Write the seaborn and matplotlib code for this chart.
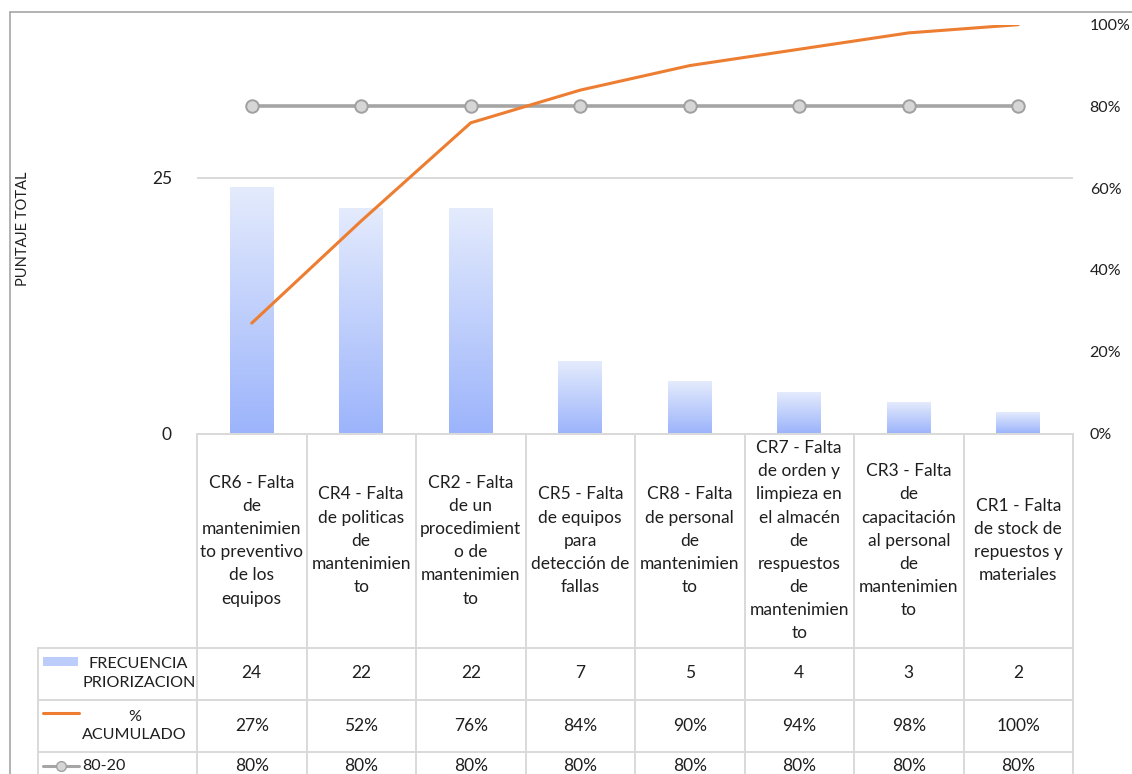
import numpy as np
import pandas as pd
import matplotlib
matplotlib.use("Agg")
import matplotlib.pyplot as plt
import seaborn as sns
from matplotlib.lines import Line2D
from matplotlib.patches import Rectangle
from matplotlib.colors import LinearSegmentedColormap
from matplotlib.ticker import PercentFormatter

# ---------------- data ----------------
categories = [
    "CR6 - Falta\nde\nmantenimien\nto preventivo\nde los\nequipos",
    "CR4 - Falta\nde politicas\nde\nmantenimien\nto",
    "CR2 - Falta\nde un\nprocedimient\no de\nmantenimien\nto",
    "CR5 - Falta\nde equipos\npara\ndetección de\nfallas",
    "CR8 - Falta\nde personal\nde\nmantenimien\nto",
    "CR7 - Falta\nde orden y\nlimpieza en\nel almacén\nde\nrespuestos\nde\nmantenimien\nto",
    "CR3 - Falta\nde\ncapacitación\nal personal\nde\nmantenimien\nto",
    "CR1 - Falta\nde stock de\nrepuestos y\nmateriales",
]
frecuencia = [24, 22, 22, 7, 5, 4, 3, 2]
acumulado = [0.27, 0.52, 0.76, 0.84, 0.90, 0.94, 0.98, 1.00]
regla_80_20 = [0.80, 0.80, 0.80, 0.80, 0.80, 0.80, 0.80, 0.80]
series_names = ["FRECUENCIA\nPRIORIZACION", "%\nACUMULADO", "80-20"]
left_ticks = [0, 25]
right_ticks = [0.0, 0.2, 0.4, 0.6, 0.8, 1.0]
y_label = "PUNTAJE TOTAL"

# ---------------- style ----------------
sns.set_theme(style="white")
plt.rcParams["font.family"] = ["Lato", "DejaVu Sans"]
TXT = "#1F1F1F"
GRID = "#D9D9D9"
ORANGE = "#ED7D31"
GRAY = "#A5A5A5"

W, H = 1132, 774
fig = plt.figure(figsize=(W / 100, H / 100), dpi=100)
fig.patch.set_facecolor("white")


def fx(x):
    return x / W


def fy(y):
    return 1 - y / H


PL, PR, PT, PB = 197, 1073, 24.7, 433.5
ax = fig.add_axes([fx(PL), fy(PB), (PR - PL) / W, (PB - PT) / H])

df = pd.DataFrame({"cat": categories, "freq": frecuencia})
sns.barplot(data=df, x="cat", y="freq", ax=ax, width=0.4,
            color="#9EB6FC", saturation=1, zorder=2)

cmap = LinearSegmentedColormap.from_list("bar", ["#9CB4FB", "#E4EBFD"])
grad = np.linspace(0, 1, 256).reshape(-1, 1)
for p in list(ax.patches):
    x0, y0, w, h = p.get_x(), p.get_y(), p.get_width(), p.get_height()
    ax.imshow(grad, extent=[x0, x0 + w, y0, y0 + h], aspect="auto",
              cmap=cmap, origin="lower", zorder=2, interpolation="bilinear")
    p.set_facecolor("none")
    p.set_edgecolor("none")

ax.set_xlim(-0.5, len(categories) - 0.5)
ax.set_ylim(0, 40)
ax.set_yticks(left_ticks)
ax.set_xticks([])
ax.set_xlabel("")
ax.set_ylabel("")
ax.yaxis.grid(True, color=GRID, lw=1.4)
ax.set_axisbelow(True)
for s in ax.spines.values():
    s.set_visible(False)
ax.tick_params(axis="y", length=0, pad=18, labelsize=12.5, labelcolor=TXT)

ax2 = ax.twinx()
pos = np.arange(len(categories))
sns.lineplot(x=pos, y=regla_80_20, ax=ax2, color=GRAY, lw=2.6, marker="o",
             markersize=9, markerfacecolor="#D6D6D6", markeredgecolor="#A0A0A0",
             markeredgewidth=1.4, legend=False, zorder=3)
sns.lineplot(x=pos, y=acumulado, ax=ax2, color=ORANGE, lw=2.2,
             legend=False, zorder=4)
ax2.set_ylim(0, 1)
ax2.set_yticks(right_ticks)
ax2.yaxis.set_major_formatter(PercentFormatter(1.0, decimals=0))
ax2.set_ylabel("")
for s in ax2.spines.values():
    s.set_visible(False)
ax2.tick_params(axis="y", length=0, pad=12, labelsize=11.5, labelcolor=TXT)
ax.set_xlim(-0.5, len(categories) - 0.5)

fig.text(fx(23), fy(229), y_label, rotation=90, ha="center", va="center",
         fontsize=10.5, color=TXT)

# ---------------- data table ----------------
def hline(y, x0, x1, color=GRID, lw=1.4):
    fig.add_artist(Line2D([fx(x0), fx(x1)], [fy(y), fy(y)], color=color,
                          lw=lw, transform=fig.transFigure))


def vline(x, y0, y1, color=GRID, lw=1.4):
    fig.add_artist(Line2D([fx(x), fx(x)], [fy(y0), fy(y1)], color=color,
                          lw=lw, transform=fig.transFigure))


n = len(categories)
cw = (PR - PL) / n
edges = [PL + i * cw for i in range(n + 1)]
rows = [648, 699.5, 752]
TL = 38

hline(PB, PL, PR)
for r in rows:
    hline(r, TL, PR)
for e in edges:
    vline(e, PB, H + 2)
vline(TL, rows[0], H + 2)

FS = 12.5
hdr_c = (PB + rows[0]) / 2
for i, c in enumerate(categories):
    xc = (edges[i] + edges[i + 1]) / 2
    fig.text(fx(xc), fy(hdr_c), c, ha="center", va="center",
             multialignment="center", fontsize=FS, color=TXT, linespacing=1.55)

row_y = [673.5, 726, 766]
vals = [
    [str(v) for v in frecuencia],
    [f"{v:.0%}" for v in acumulado],
    [f"{v:.0%}" for v in regla_80_20],
]
for r, vs in enumerate(vals):
    for i, v in enumerate(vs):
        xc = (edges[i] + edges[i + 1]) / 2
        fig.text(fx(xc), fy(row_y[r]), v, ha="center", va="center",
                 fontsize=FS, color=TXT)

# legend keys + series names
fig.add_artist(Rectangle((fx(43), fy(666)), fx(78) - fx(43), fy(657) - fy(666),
                         transform=fig.transFigure, facecolor="#BCCCFB",
                         edgecolor="none"))
fig.add_artist(Line2D([fx(43), fx(79)], [fy(713), fy(713)], color=ORANGE,
                      lw=2.2, transform=fig.transFigure))
fig.add_artist(Line2D([fx(43), fx(79)], [fy(766), fy(766)], color=GRAY,
                      lw=2.2, transform=fig.transFigure))
fig.add_artist(Line2D([fx(61)], [fy(766)], color=GRAY, marker="o",
                      markersize=7, markerfacecolor="#D6D6D6",
                      markeredgecolor="#A0A0A0", transform=fig.transFigure))
for r, name in enumerate(series_names):
    fig.text(fx(82), fy(row_y[r]), name, ha="left", va="center",
             multialignment="center", fontsize=11.6, color=TXT, linespacing=1.45)

# chart border
BC = "#A6A6A6"
hline(12.3, 9.5, W + 2, color=BC, lw=1.2)
vline(9.5, 12.3, H + 2, color=BC, lw=1.2)

fig.savefig("out.png", dpi=100)
